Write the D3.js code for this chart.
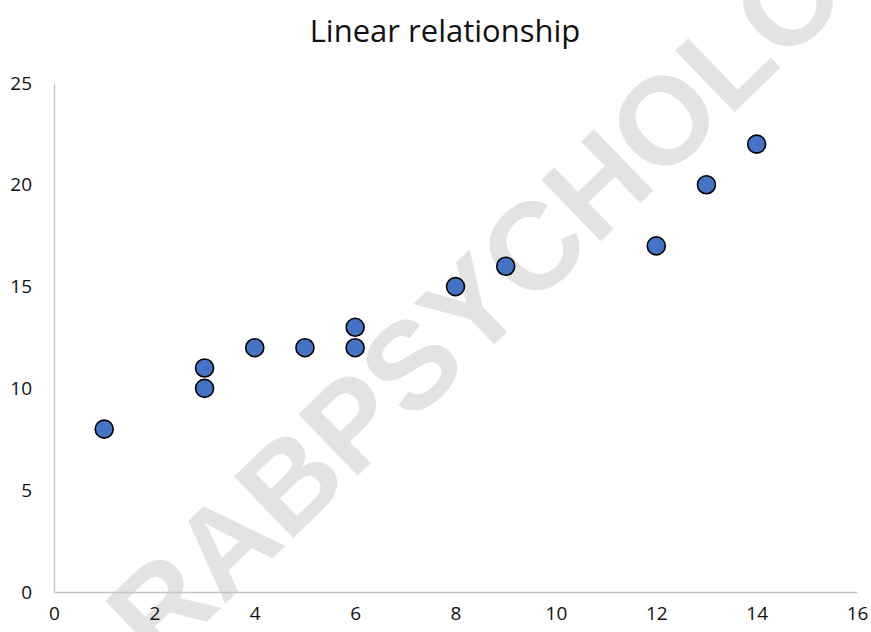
<!DOCTYPE html>
<html><head><meta charset="utf-8">
<script src="https://cdn.jsdelivr.net/npm/d3@7"></script>
<style>body{margin:0;background:#fff}svg{display:block}</style>
</head><body>
<svg id="c" width="871" height="632"></svg>
<script>
const xValues = [1, 3, 3, 4, 5, 6, 6, 8, 9, 12, 13, 14];
const yValues = [8, 10, 11, 12, 12, 12, 13, 15, 16, 17, 20, 22];
const xTicks = [0, 2, 4, 6, 8, 10, 12, 14, 16];
const yTicks = [0, 5, 10, 15, 20, 25];
const title = "Linear relationship";
const watermark = "RABPSYCHOLOGY";

const svg = d3.select("#c");
const W = 871, H = 632;
const m = {left: 54, right: 14, top: 83, bottom: 40};
const x = d3.scaleLinear().domain([0, 16]).range([m.left, W - m.right]);
const y = d3.scaleLinear().domain([0, 25]).range([H - m.bottom, m.top]);
const font = "'Open Sans', 'Noto Sans', sans-serif";

// watermark (behind everything)
svg.append("text")
  .attr("transform", "translate(540,240) rotate(-44)")
  .attr("text-anchor", "middle")
  .attr("dominant-baseline", "central")
  .attr("font-family", "'Liberation Sans', Arial, sans-serif")
  .attr("font-weight", "bold")
  .attr("font-size", 124)
  .attr("fill", "#e3e3e3")
  .text(watermark);

// axes
const gx = svg.append("g").attr("transform", `translate(0,${y(0)})`)
  .call(d3.axisBottom(x).tickValues(xTicks).tickSize(0).tickPadding(15));
const gy = svg.append("g").attr("transform", `translate(${x(0)},0)`)
  .call(d3.axisLeft(y).tickValues(yTicks).tickSize(0).tickPadding(22));
[gx, gy].forEach(g => {
  g.select(".domain").attr("stroke", "#c4c4c4").attr("stroke-width", 1.3);
  g.selectAll("text").attr("font-family", font).attr("font-size", 19).attr("fill", "#111");
});

// title
svg.append("text")
  .attr("x", 445).attr("y", 42)
  .attr("text-anchor", "middle")
  .attr("font-family", font).attr("font-size", 31).attr("fill", "#111")
  .text(title);

// points
svg.append("g").selectAll("circle")
  .data(xValues.map((v, i) => ({x: v, y: yValues[i]})))
  .join("circle")
  .attr("cx", d => x(d.x)).attr("cy", d => y(d.y)).attr("r", 9)
  .attr("fill", "#4472C4").attr("stroke", "#000").attr("stroke-width", 1.6);
</script>
</body></html>
